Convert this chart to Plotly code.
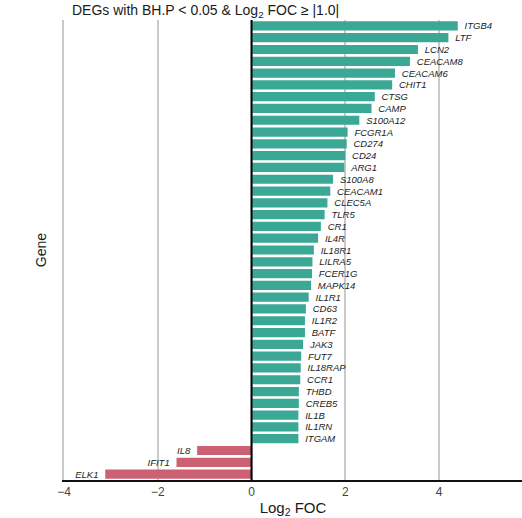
import plotly.graph_objects as go

genes = ["ITGB4", "LTF", "LCN2", "CEACAM8", "CEACAM6", "CHIT1", "CTSG", "CAMP",
         "S100A12", "FCGR1A", "CD274", "CD24", "ARG1", "S100A8", "CEACAM1", "CLEC5A",
         "TLR5", "CR1", "IL4R", "IL18R1", "LILRA5", "FCER1G", "MAPK14", "IL1R1",
         "CD63", "IL1R2", "BATF", "JAK3", "FUT7", "IL18RAP", "CCR1", "THBD",
         "CREB5", "IL1B", "IL1RN", "ITGAM", "IL8", "IFIT1", "ELK1"]
log2foc = [4.40, 4.20, 3.55, 3.38, 3.06, 3.00, 2.63, 2.56,
           2.30, 2.05, 2.03, 2.00, 1.98, 1.74, 1.68, 1.62,
           1.56, 1.48, 1.42, 1.33, 1.30, 1.29, 1.27, 1.22,
           1.16, 1.14, 1.14, 1.10, 1.06, 1.05, 1.04, 1.01,
           1.01, 1.00, 1.00, 1.00, -1.16, -1.60, -3.12]

UP = "#3aa895"
DOWN = "#cd6174"
colors = [UP if v > 0 else DOWN for v in log2foc]
templates = ["\u2009\u2009<i>%{text}</i>" if v > 0 else "<i>%{text}</i>\u2009\u2009"
             for v in log2foc]

fig = go.Figure(go.Bar(
    x=log2foc, y=genes, orientation="h",
    marker=dict(color=colors, line=dict(width=0)),
    text=genes, texttemplate=templates, textposition="outside",
    textfont=dict(size=9.5, color="#222222", family="Liberation Sans, Arial"),
    constraintext="none", cliponaxis=False,
))

fig.add_shape(type="line", x0=0, x1=0, y0=0, y1=1, xref="x", yref="paper",
              line=dict(color="black", width=2), layer="above")

fig.update_layout(
    width=522, height=518,
    margin=dict(l=64, r=0, t=20, b=35),
    plot_bgcolor="white", paper_bgcolor="white",
    bargap=0.22, showlegend=False,
    font=dict(family="Liberation Sans, Arial", color="#222"),
    title=dict(text="DEGs with BH.P < 0.05 & Log<sub>2</sub> FOC ≥ |1.0|",
               x=72/522, xanchor="left", xref="container",
               y=1-10/518, yanchor="middle", yref="container",
               font=dict(size=14, color="#1a1a1a")),
    xaxis=dict(range=[-4, 5.77], tickvals=[-4, -2, 0, 2, 4],
               showgrid=True, gridcolor="#c9c9c9", gridwidth=2,
               zeroline=False,
               showline=True, linecolor="#111", linewidth=2,
               ticks="", tickfont=dict(size=12, color="#444"),
               title=dict(text="Log<sub>2</sub> FOC", font=dict(size=15, color="#1a1a1a"),
                          standoff=8)),
    yaxis=dict(range=[38.5, -0.5], showticklabels=False, showgrid=False,
               zeroline=False, showline=True, linecolor="#c9c9c9", linewidth=2,
               ticks="",
               title=dict(text="Gene", font=dict(size=14, color="#1a1a1a"), standoff=12)),
)

fig.write_html("out.html")
